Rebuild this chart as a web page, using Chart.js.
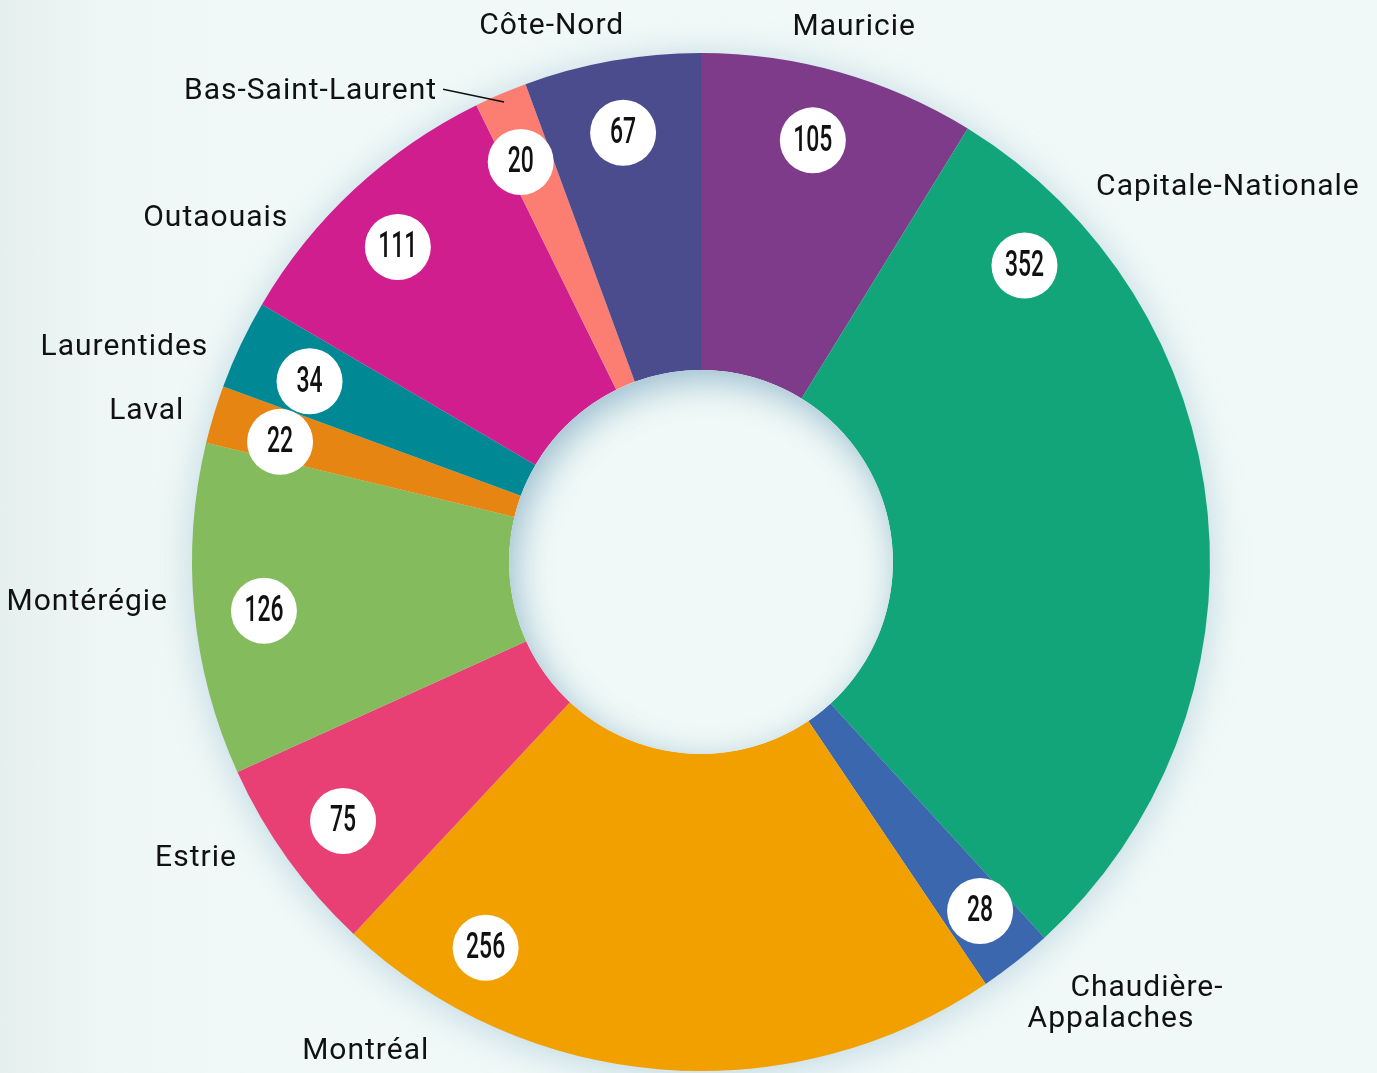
<!DOCTYPE html>
<html>
<head>
<meta charset="utf-8">
<script src="https://cdn.jsdelivr.net/npm/chart.js@4.4.1/dist/chart.umd.min.js"></script>
<style>
  html, body { margin: 0; padding: 0; }
  body { width: 1377px; height: 1073px; overflow: hidden;
         background: linear-gradient(to right, #e5efee 0px, #eef7f5 110px, #f0f9f7 260px); }
  #regionsChart { display: block; }
</style>
</head>
<body>
<canvas id="regionsChart" width="1377" height="1073"></canvas>
<script>
// Data
const regions = ['Mauricie', 'Capitale-Nationale', 'Chaudière-Appalaches', 'Montréal', 'Estrie',
                 'Montérégie', 'Laval', 'Laurentides', 'Outaouais', 'Bas-Saint-Laurent', 'Côte-Nord'];
const counts = [105, 352, 28, 256, 75, 126, 22, 34, 111, 20, 67];
const sliceColors = ['#7e3b8a', '#13a57a', '#3a67ad', '#f2a000', '#e84075',
                     '#84bb5c', '#e68512', '#008895', '#d01e8e', '#fc7d72', '#4b4c8d'];

// Badge placement: share of the slice's arc, and distance as share of outer radius
const badgeAlong = [0.47, 0.15, 0.45, 0.82, 0.49, 0.475, 0.36, 0.45, 0.47, 0.32, 0.49];
const badgeDist = [0.857, 0.862, 0.878, 0.868, 0.868, 0.864, 0.86, 0.847, 0.859, 0.862, 0.857];

// Name labels: angle clockwise from top (deg), distance as share of outer radius
const nameAngle = [15.9, 54.35, 135.7, 214.6, 239.8, 266.5, 285.5, 290.7, 305.5, 320.5, 344.5];
const nameDist = [1.099, 1.274, 1.204, 1.160, 1.148, 1.208, 1.130, 1.211, 1.171, 1.206, 1.097];
const wrapped = { 2: ['Chaudière-', 'Appalaches'] };  // two-line label
const leaderFor = 9;  // Bas-Saint-Laurent gets a pointer line

function polar(cx, cy, deg, r) {
    const a = (deg - 90) * Math.PI / 180;
    return { x: cx + Math.cos(a) * r, y: cy + Math.sin(a) * r };
}

// Soft glow behind the ring
const ringGlow = {
    id: 'ringGlow',
    beforeDatasetsDraw(chart) {
        const arc = chart.getDatasetMeta(0).data[0];
        const ctx = chart.ctx;
        ctx.save();
        ctx.beginPath();
        ctx.arc(arc.x, arc.y, arc.outerRadius - 2, 0, Math.PI * 2);
        ctx.shadowColor = 'rgba(120, 165, 195, 0.45)';
        ctx.shadowBlur = 38;
        ctx.shadowOffsetY = 4;
        ctx.fillStyle = '#dfecef';
        ctx.fill();
        ctx.restore();
    }
};

// Inner shadow in the hole, badges and names
const ringDecor = {
    id: 'ringDecor',
    afterDatasetsDraw(chart) {
        const meta = chart.getDatasetMeta(0);
        const first = meta.data[0];
        const cx = first.x, cy = first.y, R = first.outerRadius, r = first.innerRadius;
        const ctx = chart.ctx;

        // hole
        ctx.save();
        ctx.beginPath();
        ctx.arc(cx, cy, r, 0, Math.PI * 2);
        ctx.fillStyle = '#f0f9f7';
        ctx.fill();
        ctx.clip();
        ctx.beginPath();
        ctx.rect(cx - r - 200, cy - r - 200, 2 * r + 400, 2 * r + 400);
        ctx.arc(cx, cy, r + 1, 0, Math.PI * 2, true);
        ctx.shadowColor = 'rgba(135, 175, 198, 0.85)';
        ctx.shadowBlur = 36;
        ctx.shadowOffsetX = 6;
        ctx.shadowOffsetY = 10;
        ctx.fillStyle = '#b9d2de';
        ctx.fill('evenodd');
        ctx.restore();

        // badges
        meta.data.forEach((arc, i) => {
            const a = arc.startAngle + badgeAlong[i] * (arc.endAngle - arc.startAngle);
            const d = badgeDist[i] * R;
            const x = cx + Math.cos(a) * d, y = cy + Math.sin(a) * d;
            ctx.save();
            ctx.beginPath();
            ctx.arc(x, y, 33, 0, Math.PI * 2);
            ctx.fillStyle = '#ffffff';
            ctx.fill();
            ctx.translate(x, y + 1);
            ctx.scale(0.62, 1);
            ctx.fillStyle = '#111111';
            ctx.font = '500 37px Roboto';
            ctx.textAlign = 'center';
            ctx.textBaseline = 'middle';
            ctx.fillText(String(counts[i]), 0, 0);
            ctx.restore();
        });

        // names
        ctx.save();
        ctx.fillStyle = '#111111';
        ctx.font = '400 30px Roboto';
        ctx.letterSpacing = '1px';
        ctx.textAlign = 'center';
        ctx.textBaseline = 'middle';
        regions.forEach((name, i) => {
            const p = polar(cx, cy, nameAngle[i], nameDist[i] * R);
            p.y += 3;
            if (wrapped[i]) {
                ctx.fillText(wrapped[i][0], p.x + 18, p.y - 15.5);
                ctx.fillText(wrapped[i][1], p.x - 18, p.y + 15.5);
            } else {
                ctx.fillText(name, p.x, p.y);
            }
            if (i === leaderFor) {
                const arc = meta.data[i];
                const w = ctx.measureText(name).width;
                const mid = (arc.startAngle + arc.endAngle) / 2;
                ctx.beginPath();
                ctx.moveTo(p.x + w / 2 + 6, p.y - 2);
                ctx.lineTo(cx + Math.cos(mid) * R * 0.983, cy + Math.sin(mid) * R * 0.983);
                ctx.strokeStyle = '#111111';
                ctx.lineWidth = 1.5;
                ctx.stroke();
            }
        });
        ctx.restore();
    }
};

const regionsConfig = {
    type: 'doughnut',
    data: {
        labels: regions,
        datasets: [{
            data: counts,
            backgroundColor: sliceColors,
            borderWidth: 0,
        }]
    },
    options: {
        responsive: false,
        animation: false,
        cutout: '37.7%',
        layout: { padding: { top: 53, bottom: 2, left: 192, right: 167 } },
        plugins: {
            legend: { display: false },
            tooltip: { enabled: false },
        }
    },
    plugins: [ringGlow, ringDecor]
};

const regionsChart = new Chart(document.getElementById('regionsChart'), regionsConfig);
</script>
</body>
</html>
